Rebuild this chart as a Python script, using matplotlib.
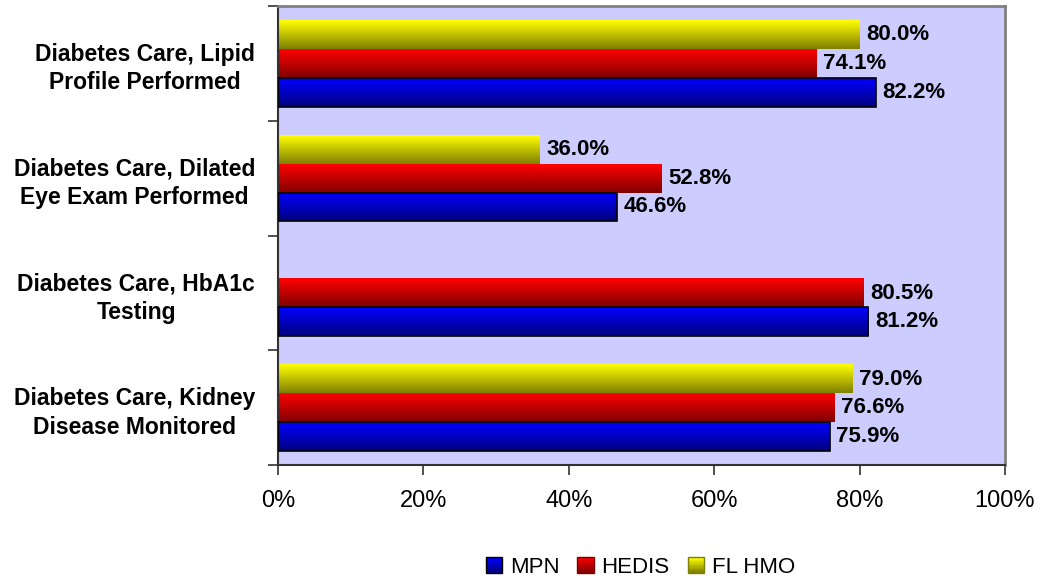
import matplotlib.pyplot as plt
import numpy as np
from matplotlib.colors import LinearSegmentedColormap
from matplotlib.legend_handler import HandlerBase
from matplotlib.patches import Rectangle
from matplotlib.ticker import PercentFormatter

categories = [
    "Diabetes Care, Kidney\nDisease Monitored",
    "Diabetes Care, HbA1c\nTesting",
    "Diabetes Care, Dilated\nEye Exam Performed",
    "Diabetes Care, Lipid\nProfile Performed",
]
series = ["MPN", "HEDIS", "FL HMO"]
mpn = [75.9, 81.2, 46.6, 82.2]
hedis = [76.6, 80.5, 52.8, 74.1]
fl_hmo = [79.0, None, 36.0, 80.0]

# (bright top, dark bottom) for each series
shades = [("#0000ff", "#000080"), ("#ff0000", "#800000"), ("#ffff00", "#808000")]

FONT = "Liberation Sans"


def gradient_cmap(top, bottom):
    return LinearSegmentedColormap.from_list("g", [bottom, top])


class GradientHandler(HandlerBase):
    def __init__(self, top, bottom, edge):
        super().__init__()
        self.top, self.bottom, self.edge = top, bottom, edge

    def create_artists(self, legend, orig_handle, xdescent, ydescent,
                       width, height, fontsize, trans):
        side = height * 1.05
        x0 = -xdescent + width - side
        y0 = -ydescent + (height - side) / 2
        cmap = gradient_cmap(self.top, self.bottom)
        n = 12
        artists = []
        for i in range(n):
            r = Rectangle((x0, y0 + side * i / n), side, side / n + 0.2,
                          facecolor=cmap(i / (n - 1)), edgecolor="none",
                          transform=trans)
            artists.append(r)
        artists.append(Rectangle((x0, y0), side, side, facecolor="none",
                                 edgecolor=self.edge, lw=1.0, transform=trans))
        return artists


fig = plt.figure(figsize=(10.41, 5.8), dpi=100)
ax = fig.add_axes([0.267, 0.198, 0.6984, 0.7915])
ax.set_facecolor("#ccccff")

y = np.arange(len(categories))
h = 0.25
offsets = [-h, 0, h]
values = [mpn, hedis, fl_hmo]
edges = ["black", "none", "none"]

grad = np.linspace(0, 1, 64).reshape(-1, 1)
handles = []
for vals, off, (top, bottom), edge, name in zip(values, offsets, shades, edges, series):
    cmap = gradient_cmap(top, bottom)
    for yi, v in zip(y, vals):
        if v is None:
            continue
        bar = ax.barh(yi + off, v, height=h, facecolor="none", edgecolor=edge,
                      lw=1.2, zorder=3)[0]
        x0, y0 = bar.get_x(), bar.get_y()
        ax.imshow(grad, extent=[x0, x0 + bar.get_width(), y0, y0 + bar.get_height()],
                  origin="lower", cmap=cmap, aspect="auto", zorder=2,
                  interpolation="bilinear")
        ax.text(v + 0.9, yi + off, f"{v:.1f}%", va="center", ha="left",
                fontsize=16, fontweight="bold", family=FONT, zorder=4)
    handles.append(Rectangle((0, 0), 1, 1, label=name))

ax.set_xlim(0, 100)
ax.set_ylim(-0.5, len(categories) - 0.5)
ax.set_xticks(np.arange(0, 101, 20))
ax.xaxis.set_major_formatter(PercentFormatter(decimals=0))
ax.set_yticks(y)
ax.set_yticklabels(categories, fontsize=16.5, fontweight="bold",
                   family=FONT, multialignment="center", linespacing=1.3)
ax.set_yticks(np.arange(-0.5, len(categories), 1), minor=True)
ax.tick_params(axis="y", which="major", length=0, pad=16.5)
ax.tick_params(axis="y", which="minor", length=7, width=1.2, color="#333333")
ax.tick_params(axis="x", length=7, width=1.2, color="#333333", pad=11,
               labelsize=17)
for lab in ax.get_xticklabels():
    lab.set_family(FONT)

for side in ["top", "right"]:
    ax.spines[side].set_color("#808080")
    ax.spines[side].set_linewidth(2)
ax.spines["bottom"].set_color("#333333")
ax.spines["bottom"].set_linewidth(1.5)
ax.spines["left"].set_color("#333333")
ax.spines["left"].set_linewidth(1.5)

fig.legend(handles=handles, labels=series, loc="center",
           bbox_to_anchor=(0.615, 0.022), ncol=3, frameon=False,
           prop={"family": FONT, "size": 16},
           handlelength=0.75, handletextpad=0.35, columnspacing=0.8,
           handler_map={h_: GradientHandler(t, b, e) for h_, (t, b), e in
                        zip(handles, shades, ["black", "#800000", "#808000"])})

fig.savefig("out.png", dpi=100)
